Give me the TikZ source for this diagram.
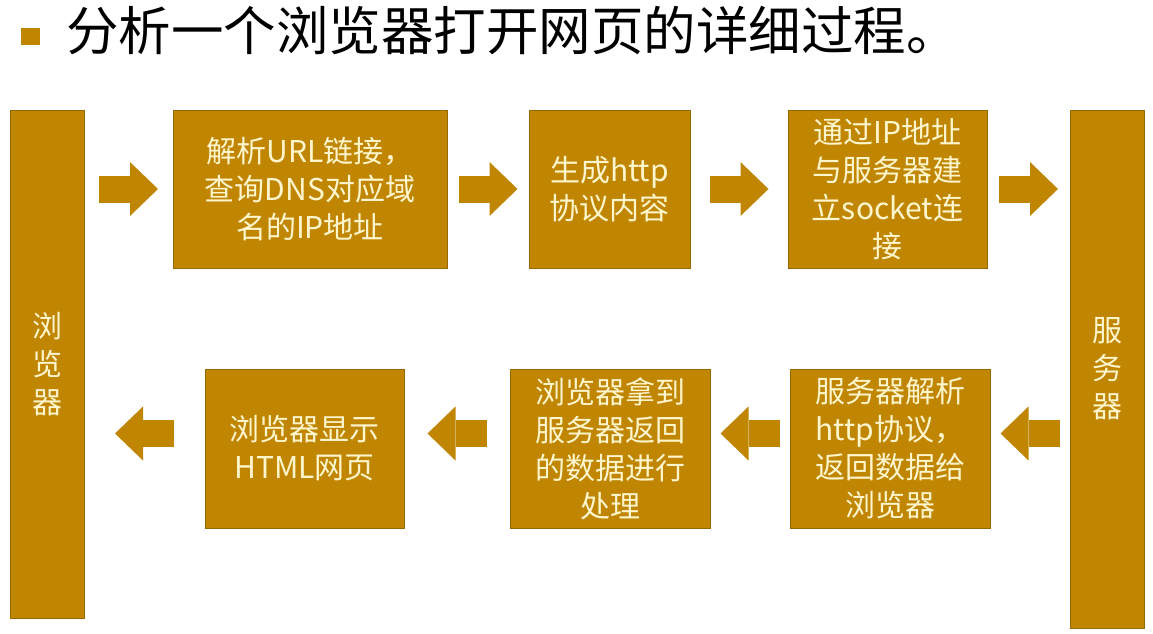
\documentclass[tikz,border=0pt]{standalone}
\usepackage{fontspec}
\setmainfont{Noto Sans CJK SC}
\usetikzlibrary{arrows.meta,calc}
\definecolor{gold}{RGB}{192,134,2}
\definecolor{goldedge}{RGB}{150,104,0}
\definecolor{cream}{RGB}{255,246,205}
\begin{document}
\begin{tikzpicture}[x=1pt,y=-1pt]
	\tikzstyle{every node}+=[inner sep=0pt]
	\tikzstyle{box}=[fill=gold, draw=goldedge, line width=0.8pt, text=cream, align=center, font=\fontsize{30}{38}\selectfont]
	\tikzstyle{flow}=[draw=gold, line width=27pt, -{Triangle[length=28pt,width=54pt,line width=0pt]},
		to path={let \p1=($(\tikztostart)!.5!(\tikztotarget)$) in ($(\p1)!29.5pt!(\tikztostart)$) -- ($(\p1)!29.5pt!(\tikztotarget)$)}]
	\useasboundingbox (0,0) rectangle (1153,634);
	\fill [gold] (21,28) rectangle (40,45);
	\node [anchor=west, font=\fontsize{52.5}{52.5}\selectfont] (title) at (66,31) {分析一个浏览器打开网页的详细过程。};
	\node [box, minimum width=74, minimum height=508] (browser) at (47,364) {浏\\览\\器};
	\node [box, minimum width=274, minimum height=158] (parse) at (310,189) {解析URL链接，\\查询DNS对应域\\名的IP地址};
	\node [box, minimum width=161, minimum height=158] (request) at (609.5,189) {生成http\\协议内容};
	\node [box, minimum width=199, minimum height=158] (connect) at (887.5,189) {通过IP地址\\与服务器建\\立socket连\\接};
	\node [box, minimum width=74, minimum height=518] (server) at (1107,369) {服\\务\\器};
	\node [box, minimum width=200, minimum height=159] (respond) at (890,448.5) {服务器解析\\http协议，\\返回数据给\\浏览器};
	\node [box, minimum width=200, minimum height=159] (receive) at (610,448.5) {浏览器拿到\\服务器返回\\的数据进行\\处理};
	\node [box, minimum width=199, minimum height=159] (render) at (304.5,448.5) {浏览器显示\\HTML网页};
	\draw [flow] (browser.east |- parse.west) to (parse.west);
	\draw [flow] (parse.east) to (request.west);
	\draw [flow] (request.east) to (connect.west);
	\draw [flow] (connect.east) to (server.west |- connect.east);
	\draw [flow] ([yshift=15pt]server.west |- respond.east) to ([yshift=15pt]respond.east);
	\draw [flow] ([yshift=15pt]respond.west) to ([yshift=15pt]receive.east);
	\draw [flow] ([yshift=15pt]receive.west) to ([yshift=15pt]render.east);
	\draw [flow] ([yshift=15pt]render.west) to ([yshift=15pt]browser.east |- render.west);
\end{tikzpicture}
\end{document}
